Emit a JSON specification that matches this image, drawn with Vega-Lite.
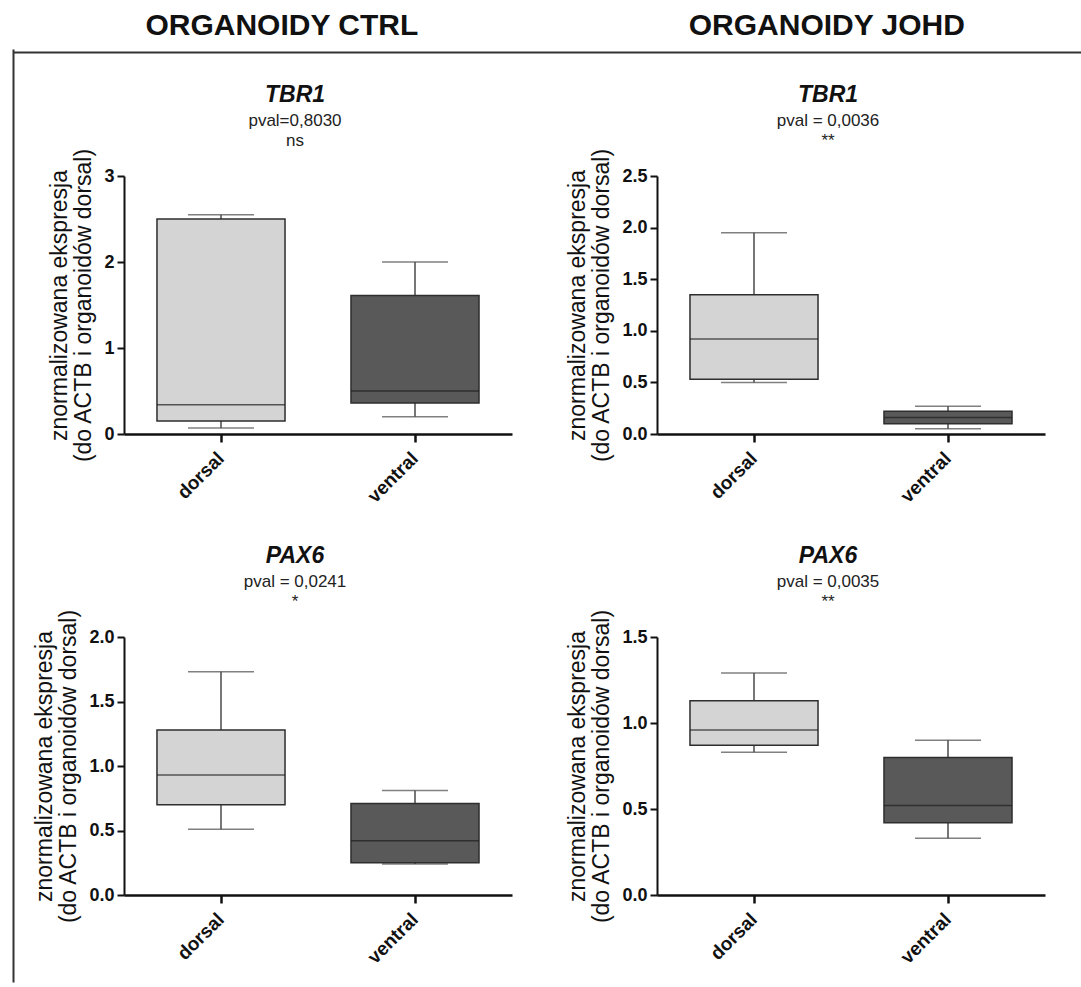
{
  "$schema": "https://vega.github.io/schema/vega-lite/v6.json",
  "padding": {"left": 10, "top": 0, "right": 0, "bottom": 0},
  "background": "white",
  "datasets": {
    "headers": [{"h": "ORGANOIDY CTRL"}, {"h": "ORGANOIDY JOHD"}],
    "boxes": [
      {"panel": "ctrl_tbr1", "group": "dorsal", "min": 0.07, "q1": 0.15, "median": 0.34, "q3": 2.50, "max": 2.55},
      {"panel": "ctrl_tbr1", "group": "ventral", "min": 0.20, "q1": 0.36, "median": 0.50, "q3": 1.61, "max": 2.00},
      {"panel": "johd_tbr1", "group": "dorsal", "min": 0.50, "q1": 0.53, "median": 0.92, "q3": 1.35, "max": 1.95},
      {"panel": "johd_tbr1", "group": "ventral", "min": 0.05, "q1": 0.10, "median": 0.16, "q3": 0.22, "max": 0.27},
      {"panel": "ctrl_pax6", "group": "dorsal", "min": 0.51, "q1": 0.70, "median": 0.93, "q3": 1.28, "max": 1.73},
      {"panel": "ctrl_pax6", "group": "ventral", "min": 0.24, "q1": 0.25, "median": 0.42, "q3": 0.71, "max": 0.81},
      {"panel": "johd_pax6", "group": "dorsal", "min": 0.83, "q1": 0.87, "median": 0.96, "q3": 1.13, "max": 1.29},
      {"panel": "johd_pax6", "group": "ventral", "min": 0.33, "q1": 0.42, "median": 0.52, "q3": 0.80, "max": 0.90}
    ]
  },
  "spacing": 31,
  "vconcat": [
    {
      "data": {"name": "headers"},
      "width": 1068,
      "height": 52,
      "mark": {"type": "text", "font": "Liberation Sans", "fontSize": 30, "fontWeight": "bold", "color": "#111"},
      "encoding": {
        "x": {"field": "h", "type": "nominal", "scale": {"type": "point", "padding": 0.4798, "align": 0.514},
              "axis": {"labels": false, "ticks": false, "domain": true, "domainColor": "#333", "domainWidth": 2, "title": null, "grid": false}},
        "text": {"field": "h", "type": "nominal"}
      }
    },
    {
      "spacing": 17,
      "hconcat": [
        {
          "data": {"name": "boxes"},
          "width": 0.5,
          "height": 806,
          "mark": {"type": "point", "opacity": 0},
          "encoding": {
            "y": {"field": "min", "type": "quantitative", "scale": {"domain": [0, 1], "range": [806, -127]},
                  "axis": {"labels": false, "ticks": false, "domain": true, "domainColor": "#333", "domainWidth": 2, "title": null, "grid": false}}
          }
        },
        {
          "columns": 2,
          "bounds": "flush",
          "spacing": {"row": 203, "column": 145},
          "concat": [
            {
              "width": 388, "height": 258,
              "data": {"name": "boxes"},
              "transform": [{"filter": "datum.panel === 'ctrl_tbr1'"}],
              "title": {"text": "TBR1", "subtitle": ["pval=0,8030", "ns"]},
              "encoding": {"x": {"field": "group", "type": "nominal", "sort": ["dorsal", "ventral"], "scale": {"type": "band", "paddingInner": 0, "paddingOuter": 0}, "axis": {"title": null}}},
              "layer": [
                {"mark": {"type": "rule", "color": "#4a4a4a", "strokeWidth": 1.5},
                 "encoding": {"y": {"field": "min", "type": "quantitative", "title": ["znormalizowana ekspresja", "(do ACTB i organoidów dorsal)"], "scale": {"domain": [0, 3], "nice": false}, "axis": {"values": [0, 1, 2, 3], "format": "d"}}, "y2": {"field": "max"}}},
                {"mark": {"type": "tick", "size": 66, "thickness": 1.5, "color": "#4a4a4a"},
                 "encoding": {"y": {"field": "min", "type": "quantitative", "title": ["znormalizowana ekspresja", "(do ACTB i organoidów dorsal)"]}}},
                {"mark": {"type": "tick", "size": 66, "thickness": 1.5, "color": "#4a4a4a"},
                 "encoding": {"y": {"field": "max", "type": "quantitative", "title": ["znormalizowana ekspresja", "(do ACTB i organoidów dorsal)"]}}},
                {"mark": {"type": "bar", "width": {"band": 0.66}, "stroke": "#2e2e2e", "strokeWidth": 1.5},
                 "encoding": {"y": {"field": "q1", "type": "quantitative", "title": ["znormalizowana ekspresja", "(do ACTB i organoidów dorsal)"]}, "y2": {"field": "q3"},
                              "fill": {"field": "group", "type": "nominal", "scale": {"domain": ["dorsal", "ventral"], "range": ["#d4d4d4", "#595959"]}, "legend": null}}},
                {"mark": {"type": "tick", "size": 128, "thickness": 1.5, "color": "#1e1e1e"},
                 "encoding": {"y": {"field": "median", "type": "quantitative", "title": ["znormalizowana ekspresja", "(do ACTB i organoidów dorsal)"]}}}
              ]
            },
            {
              "width": 388, "height": 258,
              "data": {"name": "boxes"},
              "transform": [{"filter": "datum.panel === 'johd_tbr1'"}],
              "title": {"text": "TBR1", "subtitle": ["pval = 0,0036", "**"]},
              "encoding": {"x": {"field": "group", "type": "nominal", "sort": ["dorsal", "ventral"], "scale": {"type": "band", "paddingInner": 0, "paddingOuter": 0}, "axis": {"title": null}}},
              "layer": [
                {"mark": {"type": "rule", "color": "#4a4a4a", "strokeWidth": 1.5},
                 "encoding": {"y": {"field": "min", "type": "quantitative", "title": ["znormalizowana ekspresja", "(do ACTB i organoidów dorsal)"], "scale": {"domain": [0, 2.5], "nice": false}, "axis": {"values": [0, 0.5, 1, 1.5, 2, 2.5], "format": ".1f"}}, "y2": {"field": "max"}}},
                {"mark": {"type": "tick", "size": 66, "thickness": 1.5, "color": "#4a4a4a"},
                 "encoding": {"y": {"field": "min", "type": "quantitative", "title": ["znormalizowana ekspresja", "(do ACTB i organoidów dorsal)"]}}},
                {"mark": {"type": "tick", "size": 66, "thickness": 1.5, "color": "#4a4a4a"},
                 "encoding": {"y": {"field": "max", "type": "quantitative", "title": ["znormalizowana ekspresja", "(do ACTB i organoidów dorsal)"]}}},
                {"mark": {"type": "bar", "width": {"band": 0.66}, "stroke": "#2e2e2e", "strokeWidth": 1.5},
                 "encoding": {"y": {"field": "q1", "type": "quantitative", "title": ["znormalizowana ekspresja", "(do ACTB i organoidów dorsal)"]}, "y2": {"field": "q3"},
                              "fill": {"field": "group", "type": "nominal", "scale": {"domain": ["dorsal", "ventral"], "range": ["#d4d4d4", "#595959"]}, "legend": null}}},
                {"mark": {"type": "tick", "size": 128, "thickness": 1.5, "color": "#1e1e1e"},
                 "encoding": {"y": {"field": "median", "type": "quantitative", "title": ["znormalizowana ekspresja", "(do ACTB i organoidów dorsal)"]}}}
              ]
            },
            {
              "width": 388, "height": 258,
              "data": {"name": "boxes"},
              "transform": [{"filter": "datum.panel === 'ctrl_pax6'"}],
              "title": {"text": "PAX6", "subtitle": ["pval = 0,0241", "*"]},
              "encoding": {"x": {"field": "group", "type": "nominal", "sort": ["dorsal", "ventral"], "scale": {"type": "band", "paddingInner": 0, "paddingOuter": 0}, "axis": {"title": null}}},
              "layer": [
                {"mark": {"type": "rule", "color": "#4a4a4a", "strokeWidth": 1.5},
                 "encoding": {"y": {"field": "min", "type": "quantitative", "title": ["znormalizowana ekspresja", "(do ACTB i organoidów dorsal)"], "scale": {"domain": [0, 2], "nice": false}, "axis": {"values": [0, 0.5, 1, 1.5, 2], "format": ".1f"}}, "y2": {"field": "max"}}},
                {"mark": {"type": "tick", "size": 66, "thickness": 1.5, "color": "#4a4a4a"},
                 "encoding": {"y": {"field": "min", "type": "quantitative", "title": ["znormalizowana ekspresja", "(do ACTB i organoidów dorsal)"]}}},
                {"mark": {"type": "tick", "size": 66, "thickness": 1.5, "color": "#4a4a4a"},
                 "encoding": {"y": {"field": "max", "type": "quantitative", "title": ["znormalizowana ekspresja", "(do ACTB i organoidów dorsal)"]}}},
                {"mark": {"type": "bar", "width": {"band": 0.66}, "stroke": "#2e2e2e", "strokeWidth": 1.5},
                 "encoding": {"y": {"field": "q1", "type": "quantitative", "title": ["znormalizowana ekspresja", "(do ACTB i organoidów dorsal)"]}, "y2": {"field": "q3"},
                              "fill": {"field": "group", "type": "nominal", "scale": {"domain": ["dorsal", "ventral"], "range": ["#d4d4d4", "#595959"]}, "legend": null}}},
                {"mark": {"type": "tick", "size": 128, "thickness": 1.5, "color": "#1e1e1e"},
                 "encoding": {"y": {"field": "median", "type": "quantitative", "title": ["znormalizowana ekspresja", "(do ACTB i organoidów dorsal)"]}}}
              ]
            },
            {
              "width": 388, "height": 258,
              "data": {"name": "boxes"},
              "transform": [{"filter": "datum.panel === 'johd_pax6'"}],
              "title": {"text": "PAX6", "subtitle": ["pval = 0,0035", "**"]},
              "encoding": {"x": {"field": "group", "type": "nominal", "sort": ["dorsal", "ventral"], "scale": {"type": "band", "paddingInner": 0, "paddingOuter": 0}, "axis": {"title": null}}},
              "layer": [
                {"mark": {"type": "rule", "color": "#4a4a4a", "strokeWidth": 1.5},
                 "encoding": {"y": {"field": "min", "type": "quantitative", "title": ["znormalizowana ekspresja", "(do ACTB i organoidów dorsal)"], "scale": {"domain": [0, 1.5], "nice": false}, "axis": {"values": [0, 0.5, 1, 1.5], "format": ".1f"}}, "y2": {"field": "max"}}},
                {"mark": {"type": "tick", "size": 66, "thickness": 1.5, "color": "#4a4a4a"},
                 "encoding": {"y": {"field": "min", "type": "quantitative", "title": ["znormalizowana ekspresja", "(do ACTB i organoidów dorsal)"]}}},
                {"mark": {"type": "tick", "size": 66, "thickness": 1.5, "color": "#4a4a4a"},
                 "encoding": {"y": {"field": "max", "type": "quantitative", "title": ["znormalizowana ekspresja", "(do ACTB i organoidów dorsal)"]}}},
                {"mark": {"type": "bar", "width": {"band": 0.66}, "stroke": "#2e2e2e", "strokeWidth": 1.5},
                 "encoding": {"y": {"field": "q1", "type": "quantitative", "title": ["znormalizowana ekspresja", "(do ACTB i organoidów dorsal)"]}, "y2": {"field": "q3"},
                              "fill": {"field": "group", "type": "nominal", "scale": {"domain": ["dorsal", "ventral"], "range": ["#d4d4d4", "#595959"]}, "legend": null}}},
                {"mark": {"type": "tick", "size": 128, "thickness": 1.5, "color": "#1e1e1e"},
                 "encoding": {"y": {"field": "median", "type": "quantitative", "title": ["znormalizowana ekspresja", "(do ACTB i organoidów dorsal)"]}}}
              ]
            }
          ]
        }
      ]
    }
  ],
  "config": {
    "font": "Liberation Sans",
    "view": {"stroke": null},
    "axis": {"grid": false, "domainColor": "#111", "tickColor": "#111", "labelColor": "#111", "titleColor": "#111", "labelFont": "Liberation Sans", "titleFont": "Liberation Sans", "labelFontWeight": "bold"},
    "axisY": {"domainWidth": 2, "tickWidth": 2, "tickSize": 7, "labelPadding": 3, "labelFontSize": 18, "titleFontSize": 23, "titleFontWeight": "normal", "titleLineHeight": 24, "titlePadding": 8},
    "axisX": {"domainWidth": 2.5, "tickWidth": 2.5, "tickSize": 8, "labelAngle": -45, "labelBaseline": "middle", "labelFontSize": 19, "labelPadding": 13},
    "title": {"font": "Liberation Sans", "fontSize": 23, "fontStyle": "italic", "fontWeight": "bold", "color": "#111", "subtitleFont": "Liberation Sans", "subtitleFontSize": 17, "subtitleColor": "#222", "subtitleLineHeight": 20, "subtitlePadding": 6, "offset": -1, "frame": "group", "anchor": "middle", "dx": -23}
  }
}
